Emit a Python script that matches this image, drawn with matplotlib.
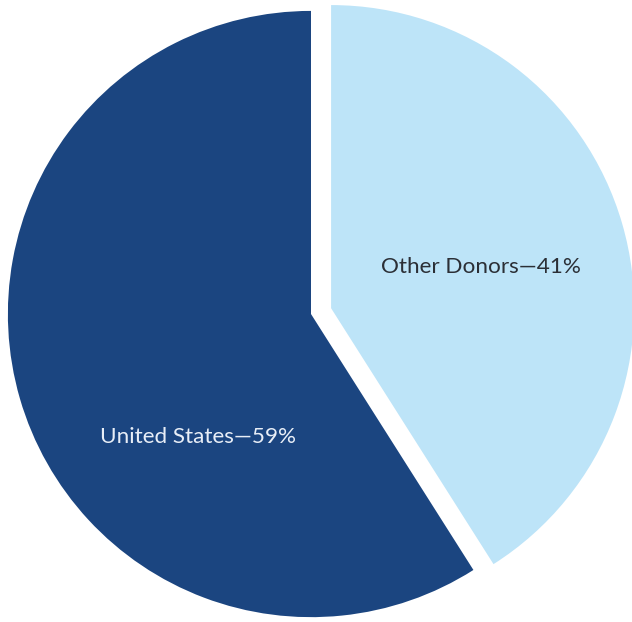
import matplotlib.pyplot as plt

# donor shares (percent)
donors = ['Other Donors', 'United States']
shares = [41, 59]
colors = ['#bde4f8', '#1b4580']
text_colors = ['#2b2f36', '#e8eef7']

fig = plt.figure(figsize=(6.32, 6.22), dpi=100)
ax = fig.add_axes([0, 0, 1, 1])

wedges, _ = ax.pie(shares, colors=colors, startangle=90, counterclock=False,
                   explode=[0.069, 0], radius=1, center=(0, 0),
                   wedgeprops={'linewidth': 0})

ax.set_xlim(-1.026, 1.059)
ax.set_ylim(-1.016, 1.036)
ax.set_aspect('auto')
ax.axis('off')

# labels inside the slices
label_pos = [(0.561, 0.155), (-0.373, -0.406)]
for name, val, pos, c in zip(donors, shares, label_pos, text_colors):
    ax.text(pos[0], pos[1], f'{name}\u2014{val}%', ha='center', va='center',
            fontsize=16.2, color=c, family='Lato', fontweight='normal')

fig.savefig('out.png', dpi=100)
